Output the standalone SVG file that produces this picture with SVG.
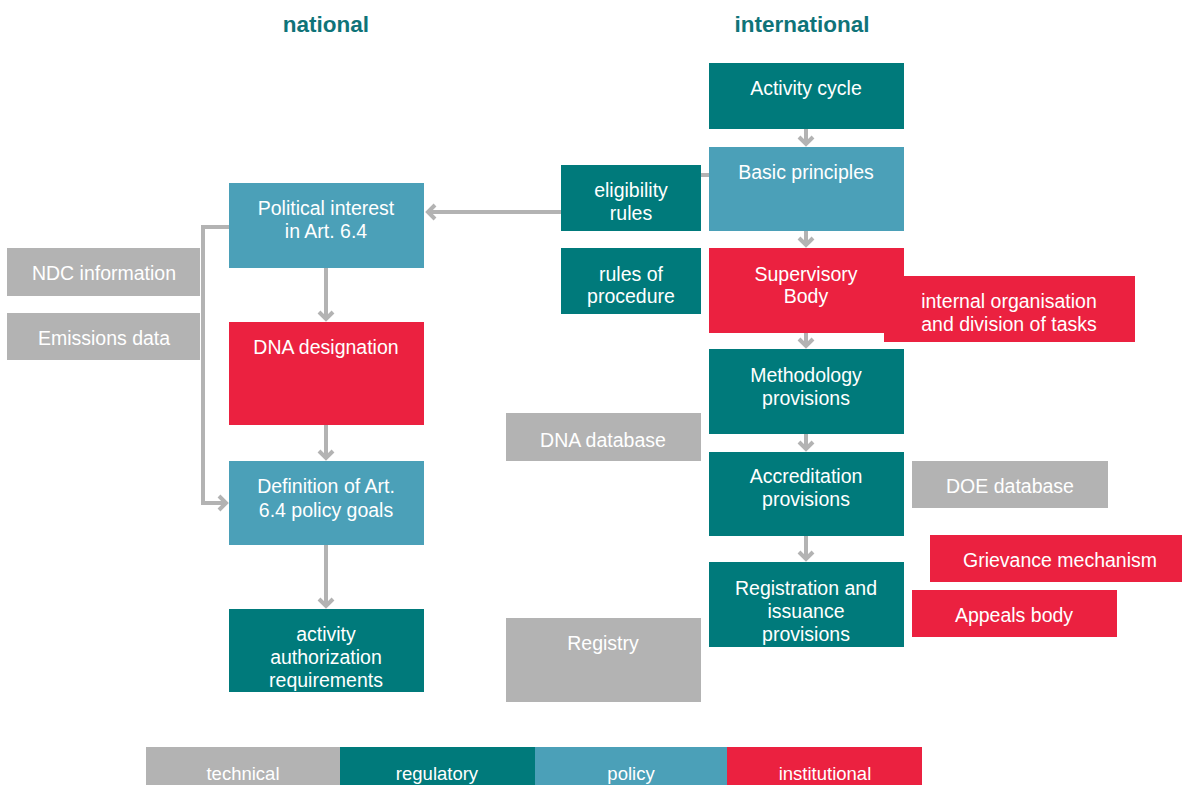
<svg xmlns="http://www.w3.org/2000/svg" width="1182" height="785" viewBox="0 0 1182 785">
<defs>
<marker id="ah" markerUnits="userSpaceOnUse" markerWidth="18" markerHeight="18" refX="10" refY="9" orient="auto" viewBox="0 0 18 18">
<path d="M3,2 L10,9 L3,16" fill="none" stroke="#B3B3B3" stroke-width="4" stroke-linejoin="miter"/>
</marker>
</defs>
<style>
text{font-family:"Liberation Sans",Arial,Helvetica,sans-serif;fill:#fff;font-size:19.5px;text-anchor:middle}
.t{fill:#B3B3B3}.r{fill:#007A7B}.p{fill:#4BA0B8}.i{fill:#EB2140}
.h{fill:#0F7378;font-weight:bold;font-size:22.5px}
.l{font-size:18.5px}
.c{fill:none;stroke:#B3B3B3;stroke-width:4}
</style>
<rect width="1182" height="785" fill="#fff"/>
<text class="h" x="326" y="32">national</text>
<text class="h" x="802" y="32">international</text>
<g id="connectors">
<path class="c" d="M709,175 L630,175 L630,212 L428,212" marker-end="url(#ah)"/>
<path class="c" d="M229,227 L203,227 L203,503 L226,503" marker-end="url(#ah)"/>
<path class="c" d="M326,268 L326,319" marker-end="url(#ah)"/>
<path class="c" d="M326,425 L326,458" marker-end="url(#ah)"/>
<path class="c" d="M326,545 L326,606" marker-end="url(#ah)"/>
<path class="c" d="M806,129 L806,144" marker-end="url(#ah)"/>
<path class="c" d="M806,231 L806,245" marker-end="url(#ah)"/>
<path class="c" d="M806,333 L806,346" marker-end="url(#ah)"/>
<path class="c" d="M806,434 L806,449" marker-end="url(#ah)"/>
<path class="c" d="M806,536 L806,559" marker-end="url(#ah)"/>
</g>
<g id="political"><rect class="p" x="229" y="183" width="195" height="85"/><text x="326" y="215">Political interest</text><text x="326" y="238">in Art. 6.4</text></g>
<g id="ndc"><rect class="t" x="7" y="248" width="193" height="48"/><text x="104" y="280">NDC information</text></g>
<g id="emissions"><rect class="t" x="7" y="313" width="193" height="47"/><text x="104" y="345">Emissions data</text></g>
<g id="dna"><rect class="i" x="229" y="322" width="195" height="103"/><text x="326" y="354">DNA designation</text></g>
<g id="definition"><rect class="p" x="229" y="461" width="195" height="84"/><text x="326" y="493">Definition of Art.</text><text x="326" y="517">6.4 policy goals</text></g>
<g id="authorization"><rect class="r" x="229" y="609" width="195" height="83"/><text x="326" y="641">activity</text><text x="326" y="664">authorization</text><text x="326" y="687">requirements</text></g>
<g id="activity"><rect class="r" x="709" y="63" width="195" height="66"/><text x="806" y="95">Activity cycle</text></g>
<g id="basic"><rect class="p" x="709" y="147" width="195" height="84"/><text x="806" y="179">Basic principles</text></g>
<g id="eligibility"><rect class="r" x="561" y="165" width="140" height="66"/><text x="631" y="197">eligibility</text><text x="631" y="220">rules</text></g>
<g id="procedure"><rect class="r" x="561" y="248" width="140" height="66"/><text x="631" y="281">rules of</text><text x="631" y="303">procedure</text></g>
<g id="supervisory"><rect class="i" x="709" y="248" width="195" height="85"/><text x="806" y="281">Supervisory</text><text x="806" y="303">Body</text></g>
<g id="internal"><rect class="i" x="884" y="276" width="251" height="66"/><text x="1009" y="308">internal organisation</text><text x="1009" y="331">and division of tasks</text></g>
<g id="methodology"><rect class="r" x="709" y="349" width="195" height="85"/><text x="806" y="382">Methodology</text><text x="806" y="405">provisions</text></g>
<g id="dnadb"><rect class="t" x="506" y="413" width="195" height="48"/><text x="603" y="447">DNA database</text></g>
<g id="accreditation"><rect class="r" x="709" y="452" width="195" height="84"/><text x="806" y="483">Accreditation</text><text x="806" y="506">provisions</text></g>
<g id="doedb"><rect class="t" x="912" y="461" width="196" height="47"/><text x="1010" y="493">DOE database</text></g>
<g id="grievance"><rect class="i" x="930" y="535" width="252" height="47"/><text x="1060" y="567">Grievance mechanism</text></g>
<g id="registration"><rect class="r" x="709" y="562" width="195" height="85"/><text x="806" y="595">Registration and</text><text x="806" y="618">issuance</text><text x="806" y="641">provisions</text></g>
<g id="appeals"><rect class="i" x="912" y="590" width="205" height="47"/><text x="1014" y="622">Appeals body</text></g>
<g id="registry"><rect class="t" x="506" y="618" width="195" height="84"/><text x="603" y="650">Registry</text></g>
<g id="legend">
<rect class="t" x="146" y="747" width="194" height="38"/><text class="l" x="243" y="780">technical</text>
<rect class="r" x="340" y="747" width="195" height="38"/><text class="l" x="437" y="780">regulatory</text>
<rect class="p" x="535" y="747" width="192" height="38"/><text class="l" x="631" y="780">policy</text>
<rect class="i" x="727" y="747" width="195" height="38"/><text class="l" x="825" y="780">institutional</text>
</g>
</svg>
